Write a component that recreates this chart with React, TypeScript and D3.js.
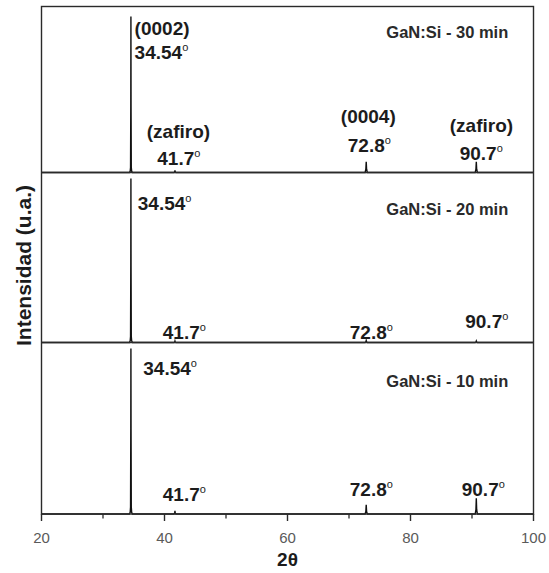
import React from "react";
import * as d3 from "d3";

// ---------- data ----------
const panelLabels = ["GaN:Si - 30 min", "GaN:Si - 20 min", "GaN:Si - 10 min"];

// 2θ sampling points (degrees) shared by the three scans
const twoTheta = [
  20, 34.3, 34.42, 34.48, 34.52, 34.54, 34.56, 34.6, 34.66, 34.78,
  41.55, 41.66, 41.7, 41.74, 41.85,
  72.62, 72.74, 72.8, 72.86, 72.98,
  90.52, 90.64, 90.7, 90.76, 90.88, 100,
];
// intensities (% of panel height)
const intensity30 = [0, 0, 0.8, 3, 40, 94, 40, 3, 0.8, 0, 0, 0.5, 1.3, 0.5, 0, 0, 2, 6.5, 2, 0, 0, 2, 6.5, 2, 0, 0];
const intensity20 = [0, 0, 1, 3.5, 45, 96.5, 45, 3.5, 1, 0, 0, 0.3, 0.8, 0.3, 0, 0, 0.4, 1.2, 0.4, 0, 0, 0.3, 0.9, 0.3, 0, 0];
const intensity10 = [0, 0, 1, 4, 50, 96.5, 50, 4, 1, 0, 0, 0.6, 1.8, 0.6, 0, 0, 1.5, 5.3, 1.5, 0, 0, 2.5, 9.2, 2.5, 0, 0];
const series = [intensity30, intensity20, intensity10];

const xTickValues = [20, 40, 60, 80, 100];
const xMinorValues = [30, 50, 70, 90];
const xTitle = "2θ";
const yTitle = "Intensidad (u.a.)";

// annotations: panel, text, degree superscript, 2θ start
type Ann = { p: number; text: string; deg: boolean; x: number; dy: number };
const annotations: Ann[] = [
  { p: 0, text: "(0002)", deg: false, x: 35.14, dy: 28.5 },
  { p: 0, text: "34.54", deg: true, x: 35.14, dy: 52.5 },
  { p: 0, text: "(zafiro)", deg: false, x: 37.12, dy: 131.5 },
  { p: 0, text: "41.7", deg: true, x: 38.83, dy: 158.5 },
  { p: 0, text: "(0004)", deg: false, x: 68.67, dy: 116.5 },
  { p: 0, text: "72.8", deg: true, x: 69.8, dy: 145.5 },
  { p: 0, text: "(zafiro)", deg: false, x: 86.38, dy: 125.5 },
  { p: 0, text: "90.7", deg: true, x: 88.0, dy: 153.5 },
  { p: 1, text: "34.54", deg: true, x: 35.66, dy: 37.5 },
  { p: 1, text: "41.7", deg: true, x: 39.72, dy: 166 },
  { p: 1, text: "72.8", deg: true, x: 70.13, dy: 166 },
  { p: 1, text: "90.7", deg: true, x: 88.9, dy: 155.5 },
  { p: 2, text: "34.54", deg: true, x: 36.55, dy: 32.5 },
  { p: 2, text: "41.7", deg: true, x: 39.72, dy: 158.5 },
  { p: 2, text: "72.8", deg: true, x: 70.13, dy: 153.5 },
  { p: 2, text: "90.7", deg: true, x: 88.33, dy: 153.5 },
];
const labelDy = [31.5, 42.5, 44.5];

// ---------- layout ----------
const W = 549;
const H = 573;
const left = 41.5;
const right = 533.5;
const panelEdges = [6.5, 172.5, 342.5, 514];
const FONT = "'Liberation Sans', Arial, Helvetica, sans-serif";
const ink = "#1c1c1c";

export default function App() {
  const x = d3.scaleLinear().domain([20, 100]).range([left, right]);
  const yScales = panelLabels.map((_, i) =>
    d3.scaleLinear().domain([0, 100]).range([panelEdges[i + 1], panelEdges[i]])
  );
  const bottom = panelEdges[3];

  return (
    <svg
      width={W}
      height={H}
      style={{ position: "absolute", left: 0, top: 0, background: "#fff" }}
      fontFamily={FONT}
    >
      {/* spectra */}
      {series.map((vals, i) => {
        const y = yScales[i];
        const line = d3
          .line<number>()
          .x((_, k) => x(twoTheta[k]))
          .y((v) => y(v));
        return (
          <path key={i} d={line(vals) || ""} fill="none" stroke="#111" strokeWidth={1.4} />
        );
      })}

      {/* frame and dividers */}
      <rect
        x={left}
        y={panelEdges[0]}
        width={right - left}
        height={bottom - panelEdges[0]}
        fill="none"
        stroke="#2a2a2a"
        strokeWidth={1.4}
      />
      {panelEdges.slice(1, 3).map((py, i) => (
        <line key={i} x1={left} x2={right} y1={py} y2={py} stroke="#2a2a2a" strokeWidth={1.4} />
      ))}

      {/* x ticks */}
      {xTickValues.map((t) => (
        <g key={"M" + t}>
          <line x1={x(t)} x2={x(t)} y1={bottom} y2={bottom + 7} stroke="#2a2a2a" strokeWidth={1.4} />
          <text x={x(t)} y={543} textAnchor="middle" fontSize={15} fill="#5a5a5a">
            {t}
          </text>
        </g>
      ))}
      {xMinorValues.map((t) => (
        <line key={"m" + t} x1={x(t)} x2={x(t)} y1={bottom} y2={bottom + 4.5} stroke="#2a2a2a" strokeWidth={1.3} />
      ))}

      {/* axis titles */}
      <text x={x(60)} y={566} textAnchor="middle" fontSize={19} fontWeight="bold" fill={ink}>
        {xTitle}
      </text>
      <text
        transform={`translate(31, ${265.5}) rotate(-90)`}
        textAnchor="middle"
        fontSize={21}
        fontWeight="bold"
        fill={ink}
      >
        {yTitle}
      </text>

      {/* panel labels */}
      {panelLabels.map((lab, i) => (
        <text
          key={lab}
          x={x(95.9)}
          y={panelEdges[i] + labelDy[i]}
          textAnchor="end"
          fontSize={16.5}
          fontWeight="bold"
          fill="#2a2a2a"
        >
          {lab}
        </text>
      ))}

      {/* peak annotations */}
      {annotations.map((a, i) => (
        <text
          key={i}
          x={x(a.x)}
          y={panelEdges[a.p] + a.dy}
          fontSize={19}
          fontWeight="bold"
          fill={ink}
        >
          {a.text}
          {a.deg ? (
            <tspan fontSize={11} dy={-8} fontWeight="normal">
              o
            </tspan>
          ) : null}
        </text>
      ))}
    </svg>
  );
}
